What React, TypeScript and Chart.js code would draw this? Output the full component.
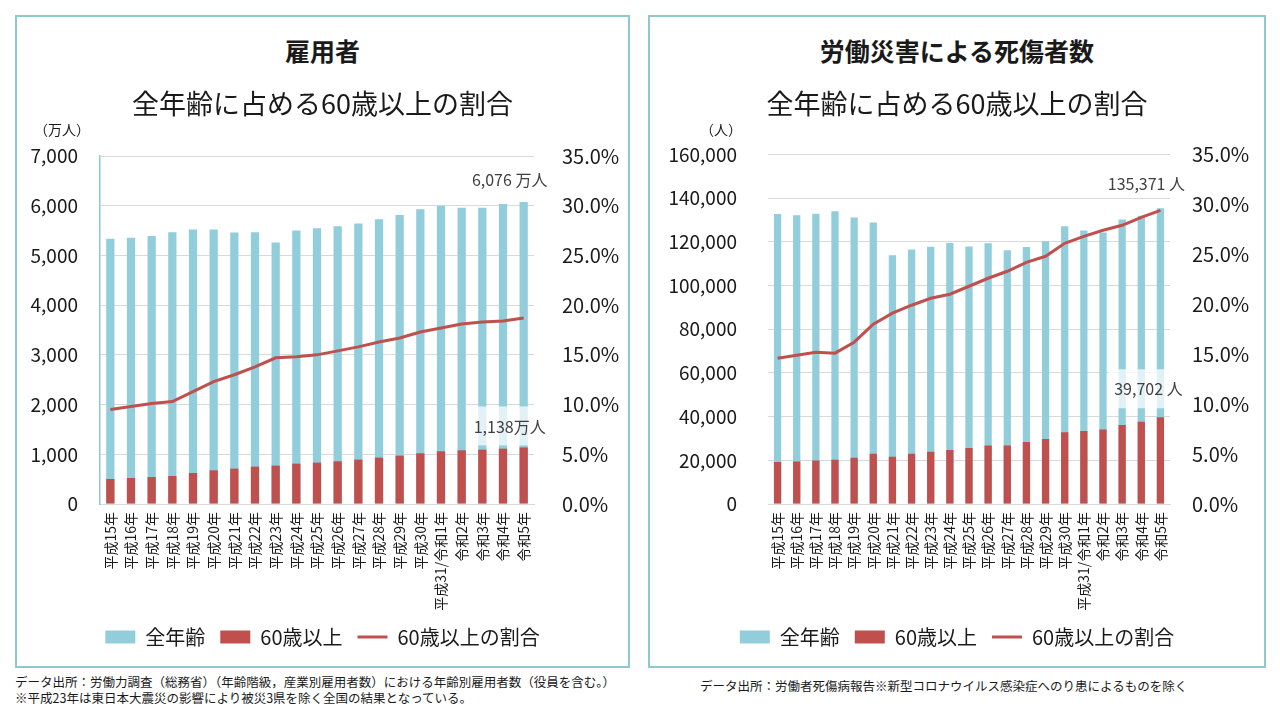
import React, { useEffect, useRef } from "react";
import { Chart, registerables } from "chart.js";

Chart.register(...registerables);

const FONT = '"Noto Sans CJK JP", "Noto Sans", sans-serif';
const BLUE = "#92cddc";
const RED = "#c0504d";
const BORDER = "#8ec9cf";
const GRID = "#d9d9d9";
const TEXT = "#1a1a1a";

// ---- Data ----
const categories = [
  "平成15年", "平成16年", "平成17年", "平成18年", "平成19年", "平成20年", "平成21年",
  "平成22年", "平成23年", "平成24年", "平成25年", "平成26年", "平成27年", "平成28年",
  "平成29年", "平成30年", "平成31/令和1年", "令和2年", "令和3年", "令和4年", "令和5年",
];

// 雇用者 (万人)
const employeesAll = [5335, 5355, 5393, 5467, 5520, 5520, 5460, 5467, 5260, 5500, 5547, 5587, 5640, 5727, 5813, 5927, 6000, 5960, 5960, 6033, 6076];
const employees60 = [503, 523, 543, 563, 624, 678, 711, 752, 772, 812, 832, 859, 893, 933, 973, 1020, 1060, 1080, 1093, 1113, 1138];
const employeesRatio = [9.5, 9.8, 10.1, 10.3, 11.3, 12.3, 13.0, 13.8, 14.7, 14.8, 15.0, 15.4, 15.8, 16.3, 16.7, 17.3, 17.7, 18.1, 18.3, 18.4, 18.7];

// 労働災害による死傷者数 (人)
const injuriesAll = [132700, 132100, 132800, 134000, 131100, 128800, 113900, 116500, 117700, 119500, 117900, 119300, 116100, 117600, 120200, 127100, 125200, 124200, 130200, 131900, 135371];
const injuries60 = [19200, 19500, 19900, 20200, 21200, 23000, 21600, 23000, 23900, 24700, 25600, 26800, 26800, 28400, 29700, 32800, 33400, 34100, 36200, 37700, 39702];
const injuriesRatio = [14.6, 14.9, 15.2, 15.1, 16.2, 18.0, 19.1, 19.9, 20.6, 21.0, 21.8, 22.6, 23.3, 24.2, 24.8, 26.1, 26.8, 27.4, 27.9, 28.7, 29.4];

const legendLabels = ["全年齢", "60歳以上", "60歳以上の割合"];

const fmt = (v: number) => v.toLocaleString("en-US");

type EndLabel = { datasetIndex: number; text: string; dx: number; dy: number; bg: boolean };

function endLabelPlugin(items: EndLabel[]) {
  return {
    id: "endLabels",
    afterDatasetsDraw(chart: any) {
      const ctx = chart.ctx;
      for (const a of items) {
        const meta = chart.getDatasetMeta(a.datasetIndex);
        const el = meta.data[meta.data.length - 1];
        if (!el) continue;
        const x = el.x + a.dx;
        const y = el.y + a.dy;
        ctx.save();
        ctx.font = `16px ${FONT}`;
        const w = ctx.measureText(a.text).width;
        if (a.bg) {
          ctx.fillStyle = "rgba(255,255,255,0.72)";
          ctx.fillRect(x - w / 2 - 6, y - 20, w + 12, 39);
        }
        ctx.fillStyle = "#404040";
        ctx.textAlign = "center";
        ctx.textBaseline = "middle";
        ctx.fillText(a.text, x, y);
        ctx.restore();
      }
    },
  };
}

type ChartProps = {
  all: number[];
  older: number[];
  ratio: number[];
  yMax: number;
  yStep: number;
  yWidth: number;
  yPad: number;
  yFont: number;
  y2Width: number;
  y2Pad: number;
  leftBorder: boolean;
  barPct: number;
  width: number;
  height: number;
  endLabels: EndLabel[];
};

function ComboChart(p: ChartProps) {
  const ref = useRef<HTMLCanvasElement | null>(null);
  useEffect(() => {
    if (!ref.current) return;
    const chart = new Chart(ref.current, {
      type: "bar",
      data: {
        labels: categories,
        datasets: [
          {
            type: "line",
            label: legendLabels[2],
            data: p.ratio,
            yAxisID: "y2",
            borderColor: RED,
            backgroundColor: RED,
            borderWidth: 3,
            pointRadius: 0,
            pointStyle: "line",
            tension: 0,
          } as any,
          {
            type: "bar",
            label: legendLabels[1],
            data: p.older,
            yAxisID: "y",
            backgroundColor: RED,
            borderWidth: 0,
            grouped: false,
            categoryPercentage: 1,
            barPercentage: p.barPct,
            pointStyle: "rect",
          } as any,
          {
            type: "bar",
            label: legendLabels[0],
            data: p.all,
            yAxisID: "y",
            backgroundColor: BLUE,
            borderWidth: 0,
            grouped: false,
            categoryPercentage: 1,
            barPercentage: p.barPct,
            pointStyle: "rect",
          } as any,
        ],
      },
      options: {
        animation: false,
        responsive: false,
        maintainAspectRatio: false,
        layout: { padding: { top: 16, bottom: 0, left: 0, right: 0 } },
        plugins: {
          legend: {
            position: "bottom",
            reverse: true,
            labels: {
              usePointStyle: true,
              pointStyleWidth: 30,
              boxHeight: 13,
              padding: 15,
              color: TEXT,
              font: { family: FONT, size: 20 },
            },
          },
          tooltip: { enabled: false },
        },
        scales: {
          x: {
            grid: { display: false, drawTicks: false },
            border: { display: true, color: GRID, width: 1 },
            ticks: {
              autoSkip: false,
              minRotation: 90,
              maxRotation: 90,
              padding: 8,
              color: TEXT,
              font: { family: FONT, size: 14 },
            },
            afterFit: (s: any) => {
              s.height = 108;
            },
          },
          y: {
            position: "left",
            min: 0,
            max: p.yMax,
            ticks: {
              stepSize: p.yStep,
              padding: p.yPad,
              color: TEXT,
              font: { family: FONT, size: p.yFont },
              callback: (v: any) => fmt(Number(v)),
            },
            grid: { color: GRID, drawTicks: false, lineWidth: 1 },
            border: { display: p.leftBorder, color: "#8cc8d6", width: 1.5 },
            afterFit: (s: any) => {
              s.width = p.yWidth;
            },
          },
          y2: {
            position: "right",
            min: 0,
            max: 35,
            ticks: {
              stepSize: 5,
              padding: p.y2Pad,
              color: TEXT,
              font: { family: FONT, size: 20 },
              callback: (v: any) => Number(v).toFixed(1) + "%",
            },
            grid: { display: false, drawTicks: false },
            border: { display: false },
            afterFit: (s: any) => {
              s.width = p.y2Width;
            },
          },
        },
      } as any,
      plugins: [endLabelPlugin(p.endLabels)],
    });
    return () => chart.destroy();
  }, []);
  return <canvas ref={ref} width={p.width} height={p.height} style={{ width: p.width, height: p.height, display: "block" }} />;
}

const abs = (l: number, t: number, extra: any = {}) => ({ position: "absolute" as const, left: l, top: t, ...extra });

export default function App() {
  const lastE = employeesAll.length - 1;
  const lastI = injuriesAll.length - 1;
  return (
    <div style={{ position: "absolute", left: 0, top: 0, width: 1280, height: 720, background: "#fff", fontFamily: FONT, color: TEXT, overflow: "hidden" }}>
      {/* Left panel */}
      <div style={abs(15, 15, { width: 611, height: 649, border: `2px solid ${BORDER}` })} />
      <div style={abs(20, 116)}>
        <ComboChart
          all={employeesAll}
          older={employees60}
          ratio={employeesRatio}
          yMax={7000}
          yStep={1000}
          yWidth={80}
          yPad={22}
          yFont={19}
          y2Width={91}
          y2Pad={28}
          leftBorder={true}
          barPct={0.4}
          width={605}
          height={541}
          endLabels={[
            { datasetIndex: 2, text: `${fmt(employeesAll[lastE])} 万人`, dx: -14, dy: -22, bg: false },
            { datasetIndex: 1, text: `${fmt(employees60[lastE])}万人`, dx: -14, dy: -21, bg: true },
          ]}
        />
      </div>
      <div style={abs(15, 37, { width: 615, textAlign: "center", fontSize: 25, fontWeight: 700, lineHeight: "26px" })}>雇用者</div>
      <div style={abs(15, 89, { width: 615, textAlign: "center", fontSize: 27, lineHeight: "28px" })}>全年齢に占める60歳以上の割合</div>
      <div style={abs(34, 121, { fontSize: 14, lineHeight: "16px" })}>（万人）</div>

      {/* Right panel */}
      <div style={abs(648, 15, { width: 614, height: 649, border: `2px solid ${BORDER}` })} />
      <div style={abs(652, 112)}>
        <ComboChart
          all={injuriesAll}
          older={injuries60}
          ratio={injuriesRatio}
          yMax={160000}
          yStep={20000}
          yWidth={116}
          yPad={31}
          yFont={19}
          y2Width={92}
          y2Pad={22}
          leftBorder={false}
          barPct={0.38}
          width={610}
          height={545}
          endLabels={[
            { datasetIndex: 2, text: `${fmt(injuriesAll[lastI])} 人`, dx: -14, dy: -24, bg: false },
            { datasetIndex: 1, text: `${fmt(injuries60[lastI])} 人`, dx: -12, dy: -28, bg: true },
          ]}
        />
      </div>
      <div style={abs(648, 37, { width: 618, textAlign: "center", fontSize: 25, fontWeight: 700, lineHeight: "26px" })}>労働災害による死傷者数</div>
      <div style={abs(648, 89, { width: 618, textAlign: "center", fontSize: 27, lineHeight: "28px" })}>全年齢に占める60歳以上の割合</div>
      <div style={abs(700, 121, { fontSize: 14, lineHeight: "16px" })}>（人）</div>

      {/* Footnotes */}
      <div style={abs(15, 674, { fontSize: 12.5, lineHeight: "16px", whiteSpace: "nowrap" })}>
        データ出所：労働力調査（総務省）（年齢階級，産業別雇用者数）における年齢別雇用者数（役員を含む。）
        <br />
        ※平成23年は東日本大震災の影響により被災3県を除く全国の結果となっている。
      </div>
      <div style={abs(700, 678, { fontSize: 12.5, lineHeight: "16px", whiteSpace: "nowrap" })}>
        データ出所：労働者死傷病報告※新型コロナウイルス感染症へのり患によるものを除く
      </div>
    </div>
  );
}
